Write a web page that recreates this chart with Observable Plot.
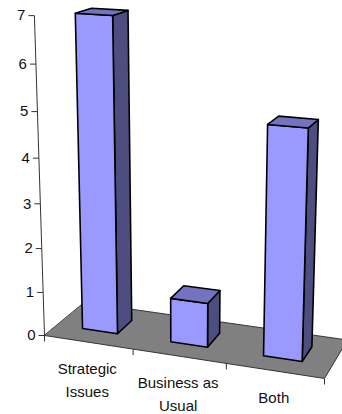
<!DOCTYPE html>
<html>
<head>
<meta charset="utf-8">
<script src="https://cdn.jsdelivr.net/npm/d3@7"></script>
<script src="https://cdn.jsdelivr.net/npm/@observablehq/plot@0.6"></script>
<style>
  html, body { margin: 0; padding: 0; background: #fff; }
  svg { display: block; }
</style>
</head>
<body>
<div id="chart"></div>
<script>
// Chart values
const categories = ["Strategic\nIssues", "Business as\nUsual", "Both"];
const values = [7, 1, 5];
const valueTicks = [0, 1, 2, 3, 4, 5, 6, 7];

// Camera: corners of the floor on the page, and the point where verticals meet
const floorCorners = [[44, 335], [324, 378], [347, 339.5], [84, 302]];
const verticalVanish = [185, 4800];
const riseRate = -0.00955;
const barHalfWidth = 0.067;
const barOffset = -0.002;
const barDepth = [0.31, 0.70];

const palette = {front: "#9999ff", side: "#4d4d80", top: "#7373c0", floor: "#808080"};

// Homography of the unit floor square onto its page corners
function floorMatrix([p0, p1, p2, p3]) {
  const sx = p0[0] - p1[0] + p2[0] - p3[0], sy = p0[1] - p1[1] + p2[1] - p3[1];
  const dx1 = p1[0] - p2[0], dy1 = p1[1] - p2[1], dx2 = p3[0] - p2[0], dy2 = p3[1] - p2[1];
  const det = dx1 * dy2 - dx2 * dy1;
  const g = (sx * dy2 - dx2 * sy) / det, h = (dx1 * sy - sx * dy1) / det;
  return {
    a: p1[0] - p0[0] + g * p1[0], b: p3[0] - p0[0] + h * p3[0], c: p0[0],
    d: p1[1] - p0[1] + g * p1[1], e: p3[1] - p0[1] + h * p3[1], f: p0[1],
    g, h
  };
}
const M = floorMatrix(floorCorners);

// u runs along the category axis, d into the depth, v is the chart value
function project(u, d, v) {
  const k = riseRate * v;
  const w = M.g * u + M.h * d + 1 + k;
  return {
    x: (M.a * u + M.b * d + M.c + k * verticalVanish[0]) / w,
    y: (M.d * u + M.e * d + M.f + k * verticalVanish[1]) / w
  };
}

const polygons = [];
function face(id, fill, corners) {
  corners.forEach(([u, d, v]) => polygons.push({id, fill, ...project(u, d, v)}));
}

face("floor", palette.floor, [[0, 0, 0], [1, 0, 0], [1, 1, 0], [0, 1, 0]]);

values.forEach((value, i) => {
  const mid = (i + 0.5) / categories.length + barOffset;
  const u0 = mid - barHalfWidth, u1 = mid + barHalfWidth;
  const [d0, d1] = barDepth;
  face(`side${i}`, palette.side, [[u1, d0, 0], [u1, d1, 0], [u1, d1, value], [u1, d0, value]]);
  face(`front${i}`, palette.front, [[u0, d0, 0], [u1, d0, 0], [u1, d0, value], [u0, d0, value]]);
  face(`top${i}`, palette.top, [[u0, d0, value], [u1, d0, value], [u1, d1, value], [u0, d1, value]]);
});

// Value axis stands on the front-left floor corner
const axisBase = project(0, 0, 0), axisTop = project(0, 0, d3.max(valueTicks));
const valueAxis = valueTicks.map(v => ({v, ...project(0, 0, v)}));

// Category axis ticks fall on the category boundaries of the front floor edge
const categoryEdges = d3.range(categories.length + 1).map(i => project(i / categories.length, 0, 0));
const categoryLabels = categories.map((label, i) => ({label, ...project((i + 0.5) / categories.length, 0, 0)}));

const chart = Plot.plot({
  width: 342,
  height: 414,
  margin: 0,
  style: {background: "#fff", fontFamily: "'Liberation Sans', Arial, sans-serif"},
  x: {domain: [0, 342], range: [0, 342], axis: null},
  y: {domain: [0, 414], range: [0, 414], axis: null},
  marks: [
    Plot.line(polygons.filter(p => p.id === "floor"), {
      x: "x", y: "y", z: "id", curve: "linear-closed",
      fill: palette.floor, stroke: "#262626", strokeWidth: 0.9
    }),
    Plot.link([{}], {
      x1: () => axisBase.x, y1: () => axisBase.y, x2: () => axisTop.x, y2: () => axisTop.y,
      stroke: "#333", strokeWidth: 1
    }),
    Plot.link(valueAxis, {
      x1: "x", y1: "y", x2: d => d.x - 6, y2: "y", stroke: "#333", strokeWidth: 1
    }),
    Plot.link(categoryEdges, {
      x1: "x", y1: "y", x2: "x", y2: d => d.y + 6, stroke: "#333", strokeWidth: 1
    }),
    Plot.text(valueAxis, {
      x: "x", y: "y", text: d => String(d.v), dx: -9, textAnchor: "end",
      fontSize: 15, fill: "#111"
    }),
    Plot.text(categoryLabels, {
      x: "x", y: "y", text: "label", dx: -1, dy: 15.5, lineAnchor: "top", textAnchor: "middle",
      lineHeight: 1.53, fontSize: 15, fill: "#111"
    }),
    Plot.line(polygons.filter(p => p.id !== "floor"), {
      x: "x", y: "y", z: "id", curve: "linear-closed",
      fill: "fill", stroke: "#000", strokeWidth: 1.6, strokeLinejoin: "round"
    })
  ]
});

document.getElementById("chart").appendChild(chart);
</script>
</body>
</html>
